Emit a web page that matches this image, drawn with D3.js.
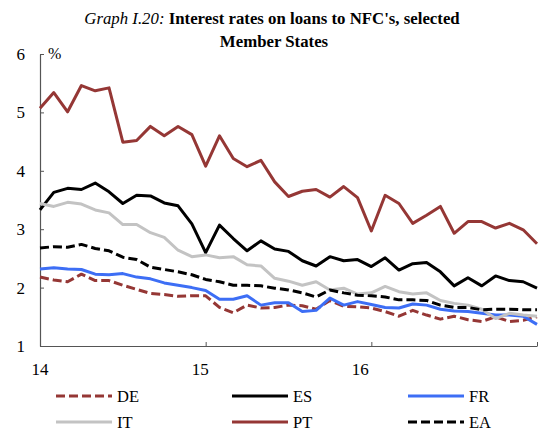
<!DOCTYPE html>
<html>
<head>
<meta charset="utf-8">
<script src="https://cdn.jsdelivr.net/npm/d3@7"></script>
<style>
  body { margin: 0; background: #fff; }
  svg text { font-family: "Liberation Serif", "Times New Roman", serif; }
</style>
</head>
<body>
<div id="chart"></div>
<script>
// monthly, Jan 2014 .. Jan 2017
var yearLabels = ["14", "15", "16"];
var yTicks = [1, 2, 3, 4, 5, 6];

var DE = [2.18,2.13,2.10,2.23,2.12,2.12,2.04,1.97,1.90,1.88,1.85,1.86,1.86,1.66,1.57,1.70,1.65,1.66,1.70,1.69,1.63,1.78,1.68,1.67,1.65,1.59,1.51,1.61,1.53,1.46,1.51,1.45,1.42,1.50,1.42,1.44,1.50];
var ES = [3.33,3.63,3.70,3.68,3.79,3.64,3.44,3.58,3.57,3.45,3.40,3.09,2.60,3.07,2.84,2.63,2.80,2.66,2.62,2.46,2.37,2.53,2.46,2.48,2.36,2.51,2.30,2.41,2.43,2.27,2.03,2.17,2.03,2.20,2.12,2.10,1.99];
var FR = [2.32,2.34,2.32,2.31,2.23,2.22,2.24,2.18,2.15,2.08,2.04,2.00,1.95,1.80,1.80,1.86,1.70,1.74,1.74,1.59,1.61,1.82,1.70,1.76,1.71,1.66,1.65,1.72,1.70,1.63,1.60,1.59,1.56,1.53,1.53,1.51,1.37];
var IT = [3.44,3.39,3.46,3.43,3.33,3.28,3.08,3.08,2.94,2.86,2.64,2.53,2.56,2.51,2.53,2.39,2.37,2.16,2.11,2.04,2.10,1.96,1.99,1.89,1.91,2.02,1.93,1.89,1.91,1.78,1.73,1.70,1.63,1.47,1.56,1.53,1.51];
var PT = [5.07,5.34,5.01,5.46,5.37,5.42,4.49,4.52,4.76,4.60,4.76,4.62,4.08,4.60,4.21,4.07,4.18,3.81,3.56,3.65,3.68,3.55,3.73,3.54,2.97,3.58,3.44,3.10,3.24,3.39,2.93,3.13,3.13,3.02,3.10,2.99,2.75];
var EA = [2.68,2.70,2.69,2.74,2.67,2.63,2.52,2.48,2.35,2.31,2.27,2.22,2.14,2.10,2.04,2.04,2.03,1.99,1.96,1.91,1.84,1.96,1.91,1.87,1.86,1.84,1.79,1.79,1.78,1.70,1.66,1.66,1.62,1.63,1.63,1.62,1.62];

var series = [
  {name: "DE", values: DE, color: "#953735", dash: "9,4"},
  {name: "ES", values: ES, color: "#000000", dash: null},
  {name: "FR", values: FR, color: "#3D6EF5", dash: null},
  {name: "IT", values: IT, color: "#C3C3C3", dash: null},
  {name: "PT", values: PT, color: "#953735", dash: null},
  {name: "EA", values: EA, color: "#000000", dash: "9,4"}
];

var width = 540, height = 432;
var plotLeft = 40, plotRight = 537, plotTop = 54, plotBottom = 346;

var svg = d3.select("#chart").append("svg")
    .attr("width", width)
    .attr("height", height);

// title
var title = svg.append("text")
    .attr("text-anchor", "middle")
    .attr("font-size", "16.8px");
title.append("tspan")
    .attr("x", 272).attr("y", 24)
    .attr("font-style", "italic")
    .text("Graph I.20: ");
title.append("tspan")
    .attr("font-weight", "bold")
    .text("Interest rates on loans to NFC's, selected");
svg.append("text")
    .attr("x", 274).attr("y", 47)
    .attr("text-anchor", "middle")
    .attr("font-size", "16.8px")
    .attr("font-weight", "bold")
    .text("Member States");

var x = d3.scaleLinear().domain([0, 36]).range([plotLeft, plotRight]);
var y = d3.scaleLinear().domain([1, 6]).range([plotBottom, plotTop]);

// y axis
var yAxis = svg.append("g")
    .attr("transform", "translate(" + plotLeft + ",0)")
    .call(d3.axisRight(y).tickValues(yTicks).tickSize(4).tickSizeOuter(0).tickFormat(""));
yAxis.select(".domain").attr("stroke", "#555").attr("stroke-width", 1.2);
yAxis.selectAll(".tick line").attr("stroke", "#555");

svg.selectAll(".ylab")
    .data(yTicks)
    .enter()
    .append("text")
      .attr("x", 25)
      .attr("y", function(d){ return y(d) + 6; })
      .attr("text-anchor", "end")
      .attr("font-size", "17px")
      .text(function(d){ return d; });

svg.append("text")
    .attr("x", 48).attr("y", 59)
    .attr("font-size", "16px")
    .text("%");

// x axis
var xAxis = svg.append("g")
    .attr("transform", "translate(0," + plotBottom + ")")
    .call(d3.axisTop(x).tickValues([0, 12, 24, 36]).tickSize(4).tickSizeOuter(0).tickFormat(""));
xAxis.select(".domain").attr("stroke", "#555").attr("stroke-width", 1.2);
xAxis.selectAll(".tick line").attr("stroke", "#555");

svg.selectAll(".xlab")
    .data(yearLabels)
    .enter()
    .append("text")
      .attr("x", function(d, i){ return x(i * 12) - i * 5.5; })
      .attr("y", 375)
      .attr("text-anchor", "middle")
      .attr("font-size", "17px")
      .text(function(d){ return d; });

// lines
var line = d3.line()
    .x(function(d, i){ return x(i); })
    .y(function(d){ return y(d); });

svg.selectAll(".series")
    .data(series)
    .enter()
    .append("path")
      .attr("fill", "none")
      .attr("stroke", function(d){ return d.color; })
      .attr("stroke-width", 3)
      .attr("stroke-linejoin", "round")
      .attr("stroke-dasharray", function(d){ return d.dash; })
      .attr("d", function(d){ return line(d.values); });

// legend
var legend = svg.selectAll(".legend")
    .data(series)
    .enter()
    .append("g")
      .attr("transform", function(d, i){
        return "translate(" + (56 + (i % 3) * 176) + "," + (396 + Math.floor(i / 3) * 26) + ")";
      });

legend.append("line")
    .attr("x1", 0).attr("x2", 56)
    .attr("stroke", function(d){ return d.color; })
    .attr("stroke-width", 3)
    .attr("stroke-dasharray", function(d){ return d.dash; });

legend.append("text")
    .attr("x", 61)
    .attr("y", 6)
    .attr("font-size", "16.5px")
    .text(function(d){ return d.name; });
</script>
</body>
</html>
